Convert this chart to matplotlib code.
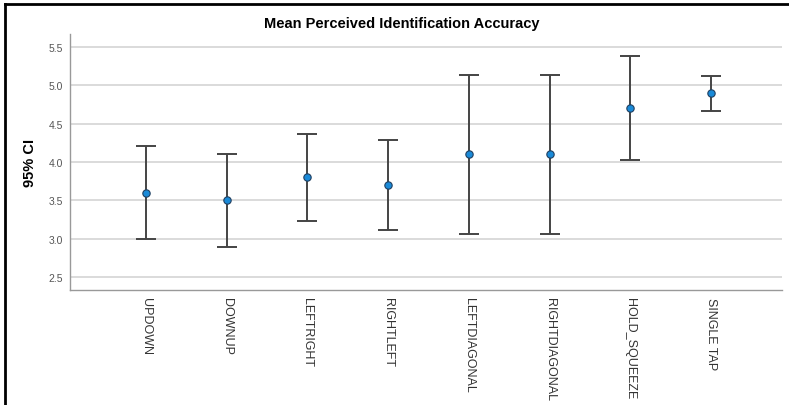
import matplotlib
matplotlib.use("Agg")
import matplotlib.pyplot as plt
from matplotlib.lines import Line2D
import numpy as np

plt.rcParams["font.family"] = ["Liberation Sans", "DejaVu Sans"]

CATEGORIES = ["UPDOWN", "DOWNUP", "LEFTRIGHT", "RIGHTLEFT",
              "LEFTDIAGONAL", "RIGHTDIAGONAL", "HOLD_SQUEEZE", "SINGLE TAP"]
MEANS = [3.6, 3.5, 3.8, 3.7, 4.1, 4.1, 4.7, 4.9]
CI_LOW = [3.0, 2.89, 3.23, 3.11, 3.06, 3.06, 4.02, 4.67]
CI_HIGH = [4.21, 4.10, 4.36, 4.29, 5.13, 5.13, 5.38, 5.12]
Y_TICKS = [2.5, 3.0, 3.5, 4.0, 4.5, 5.0, 5.5]

fig = plt.figure(figsize=(7.89, 4.06), dpi=100)
ax = fig.add_axes([70 / 789, 1 - 291 / 406, 712 / 789, 256 / 406])

x = np.arange(len(CATEGORIES))
means = np.array(MEANS)
yerr = [means - np.array(CI_LOW), np.array(CI_HIGH) - means]

ax.errorbar(x, means, yerr=yerr, fmt="none", ecolor="#444444",
            elinewidth=1.4, capsize=7, capthick=1.4, zorder=3)
ax.scatter(x, means, s=28, color="#1a8ad8", edgecolors="#1f3f60",
           linewidths=0.8, zorder=4)

ax.set_xlim(-0.94, 7.88)
ax.set_ylim(2.33, 5.67)
ax.set_yticks(Y_TICKS)
ax.set_yticklabels([f"{v:.1f}" for v in Y_TICKS], fontsize=7.5, color="#555555")
ax.set_xticks(x)
ax.set_xticklabels(CATEGORIES, rotation=270, fontsize=9, color="#333333",
                   va="top", ha="center")
ax.tick_params(axis="both", length=0, pad=5)
ax.tick_params(axis="x", pad=5)

ax.grid(axis="y", color="#d4d4d4", linewidth=1.2)
ax.set_axisbelow(True)
for side in ["top", "right"]:
    ax.spines[side].set_visible(False)
for side in ["left", "bottom"]:
    ax.spines[side].set_color("#999999")
    ax.spines[side].set_linewidth(1.0)

ax.set_ylabel("95% CI", fontsize=10.5, fontweight="bold", labelpad=8)
fig.text(0.509, 1 - 24 / 406, "Mean Perceived Identification Accuracy",
         ha="center", va="center", fontsize=10.5, fontweight="bold")

# outer frame (left and top edges)
fig.add_artist(Line2D([5 / 789, 5 / 789], [0, 1 - 5 / 406], color="black",
                      linewidth=2, transform=fig.transFigure))
fig.add_artist(Line2D([5 / 789, 1], [1 - 5 / 406, 1 - 5 / 406], color="black",
                      linewidth=2, transform=fig.transFigure))

fig.savefig("out.png", dpi=100)
